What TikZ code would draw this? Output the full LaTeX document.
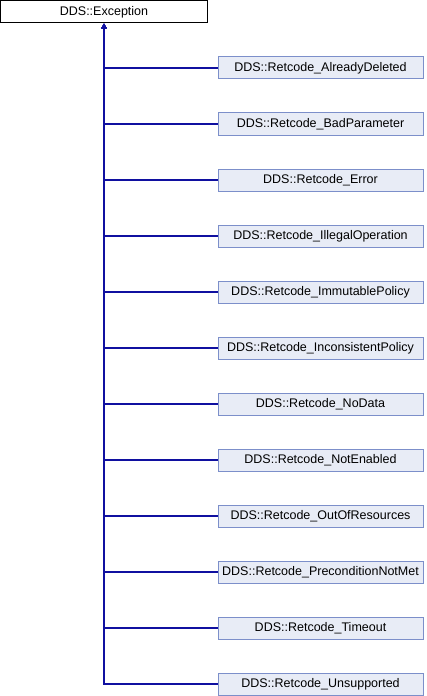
\documentclass[tikz,border=0pt]{standalone}
\usepackage{fontspec}
\setmainfont{Liberation Sans}
\usetikzlibrary{arrows.meta}
\definecolor{edgeblue}{RGB}{16,16,160}
\definecolor{boxfill}{RGB}{232,236,246}
\definecolor{boxline}{RGB}{124,143,202}
\tikzset{
  cls/.style={draw=boxline, fill=boxfill, line width=1bp, minimum width=205bp,
    minimum height=22bp, inner sep=0pt, font=\fontsize{12.5bp}{14bp}\selectfont},
  base/.style={draw=black, fill=white, line width=1bp, minimum width=206bp,
    minimum height=22bp, inner sep=0pt, font=\fontsize{12.5bp}{14bp}\selectfont},
  inherit/.style={draw=edgeblue, line width=1.2bp, -{Triangle[length=5bp,width=5bp]}}
}
\begin{document}
\begin{tikzpicture}[x=1bp,y=-1bp]
\useasboundingbox (0,0) rectangle (426,696);
\node[base] (exc) at (104,12) {DDS::Exception};
\foreach \name [count=\i from 0] in {AlreadyDeleted,BadParameter,Error,IllegalOperation,
	ImmutablePolicy,InconsistentPolicy,NoData,NotEnabled,OutOfResources,
	PreconditionNotMet,Timeout,Unsupported}
{
	\node[cls] (rc\i) at (320.5,68+56*\i) {DDS::Retcode\_\name}; % subclass
	\draw[inherit] (rc\i.west) -| (exc.south); % up to base
}
\end{tikzpicture}
\end{document}
